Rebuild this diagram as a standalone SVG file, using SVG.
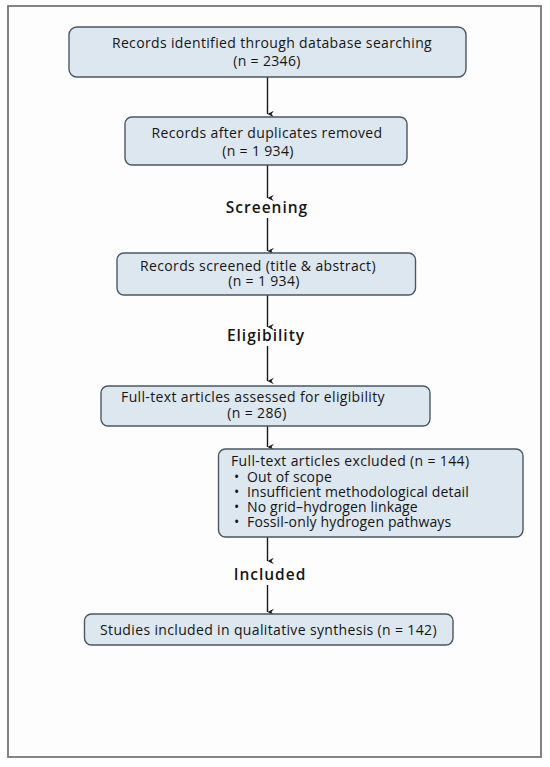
<svg xmlns="http://www.w3.org/2000/svg" width="550" height="767" viewBox="0 0 550 767">
  <defs>
    <marker id="arr" viewBox="0 0 10 10" refX="5" refY="9" markerWidth="8" markerHeight="8" markerUnits="userSpaceOnUse" orient="auto-start-reverse">
      <path d="M1,1 L5,9 L9,1 L5,4 Z" fill="#1a1a1a"/>
    </marker>
  </defs>
  <style>
    .box { fill: #dde7ef; stroke: #4b5763; stroke-width: 1.4; }
    .t { font-family: "Open Sans", "Noto Sans", "Liberation Sans", sans-serif; font-size: 14px; letter-spacing: 0.35px; fill: #151515; }
    .b { letter-spacing: 0.15px; }
    .c { text-anchor: middle; }
    .h { font-family: "Open Sans", "Noto Sans", "Liberation Sans", sans-serif; font-size: 15.5px; font-weight: 600; letter-spacing: 1px; fill: #151515; text-anchor: middle; }
    .edge { stroke: #1a1a1a; stroke-width: 1.4; fill: none; marker-end: url(#arr); }
  </style>
  <rect x="0" y="0" width="550" height="767" fill="#ffffff"/>
  <rect x="8" y="6" width="533" height="751" fill="#fdfdfd" stroke="#777" stroke-width="1.8"/>

  <g id="connectors">
    <line class="edge" x1="267.5" y1="77" x2="267.5" y2="114"/>
    <line class="edge" x1="267.5" y1="165" x2="267.5" y2="198"/>
    <line class="edge" x1="267.5" y1="218" x2="267.5" y2="251"/>
    <line class="edge" x1="267.5" y1="295" x2="267.5" y2="327"/>
    <line class="edge" x1="267.5" y1="346" x2="267.5" y2="381"/>
    <line class="edge" x1="267.5" y1="426" x2="267.5" y2="447"/>
    <line class="edge" x1="267.5" y1="537" x2="267.5" y2="561"/>
    <line class="edge" x1="267.5" y1="585" x2="267.5" y2="612"/>
  </g>

  <g id="identified">
    <rect class="box" x="69" y="27" width="397" height="50" rx="8"/>
    <text class="t c" x="272" y="48">Records identified through database searching</text>
    <text class="t c" x="267" y="66">(n = 2346)</text>
  </g>

  <g id="duplicates">
    <rect class="box" x="125" y="117" width="282" height="48" rx="7"/>
    <text class="t c" x="267" y="138">Records after duplicates removed</text>
    <text class="t c" x="258" y="156">(n = 1 934)</text>
  </g>

  <g id="label-screening">
    <text class="h" x="267" y="213">Screening</text>
  </g>

  <g id="screened">
    <rect class="box" x="117" y="253" width="298.5" height="42" rx="7"/>
    <text class="t c" x="258" y="271">Records screened (title &amp; abstract)</text>
    <text class="t c" x="264" y="286">(n = 1 934)</text>
  </g>

  <g id="label-eligibility">
    <text class="h" x="266" y="341">Eligibility</text>
  </g>

  <g id="fulltext">
    <rect class="box" x="101" y="386" width="329" height="40" rx="7"/>
    <text class="t c" x="253" y="402">Full-text articles assessed for eligibility</text>
    <text class="t c" x="257" y="418">(n = 286)</text>
  </g>

  <g id="excluded">
    <rect class="box" x="218.5" y="449" width="304.5" height="88" rx="7"/>
    <text class="t" x="231" y="466">Full-text articles excluded (n = 144)</text>
    <text class="t b"><tspan x="234" y="482">•</tspan><tspan x="247" y="482">Out of scope</tspan><tspan x="234" y="497">•</tspan><tspan x="247" y="497">Insufficient methodological detail</tspan><tspan x="234" y="512">•</tspan><tspan x="247" y="512">No grid–hydrogen linkage</tspan><tspan x="234" y="527">•</tspan><tspan x="247" y="527">Fossil-only hydrogen pathways</tspan></text>
  </g>

  <g id="label-included">
    <text class="h" x="270" y="580">Included</text>
  </g>

  <g id="included">
    <rect class="box" x="84.5" y="614" width="368.5" height="31" rx="7"/>
    <text class="t c" x="268.5" y="635">Studies included in qualitative synthesis (n = 142)</text>
  </g>
</svg>
